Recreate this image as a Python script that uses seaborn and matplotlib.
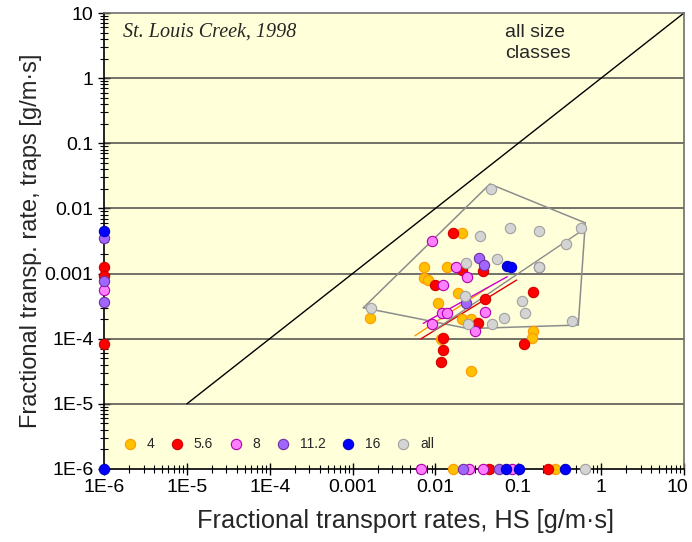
import seaborn as sns
import matplotlib.pyplot as plt
import matplotlib.ticker as mticker
import matplotlib.transforms as mtransforms
import pandas as pd
import numpy as np

# ----------- DATA -----------
# size class 4 mm
hs_4 = [0.0211, 0.00734, 0.0139, 0.00734, 0.0082, 0.0189, 0.01064, 0.00164, 0.0211,
        0.0266, 0.01155, 0.0266, 0.149, 0.145, 0.0161, 0.276]
tr_4 = [0.00415, 0.00125, 0.00125, 0.000845, 0.000796, 0.000508, 0.000357, 0.00021, 0.0002,
        0.000203, 9.8e-5, 3.2e-5, 0.000131, 0.000104, 1e-6, 1e-6]

# size class 5.6 mm
hs_56 = [0.01614, 0.0207, 0.0377, 0.00989, 0.0396, 0.0329, 0.01225, 0.01225, 0.01155,
         0.149, 0.118, 1e-6, 1e-6, 1e-6, 0.0443, 0.2306]
tr_56 = [0.00415, 0.00114, 0.00109, 0.000667, 0.000403, 0.000172, 0.000104, 6.7e-5, 4.4e-5,
         0.000527, 8.3e-5, 0.00125, 0.00093, 8.2e-5, 1e-6, 1e-6]

# size class 8 mm
hs_8 = [0.00902, 0.0179, 0.0238, 0.01225, 0.0121, 0.0139, 0.00902, 0.030, 0.0396,
        1e-6, 0.00665, 0.0253, 0.0373, 0.0832]
tr_8 = [0.00316, 0.00125, 0.000895, 0.000667, 0.000245, 0.00025, 0.000166, 0.000131, 0.00026,
        0.00056, 1e-6, 1e-6, 1e-6, 1e-6]

# size class 11.2 mm
hs_112 = [0.0336, 0.0389, 0.0232, 0.176, 1e-6, 1e-6, 1e-6, 0.0216, 0.0587]
tr_112 = [0.00175, 0.00135, 0.000349, 0.00125, 0.00347, 0.000778, 0.00037, 1e-6, 1e-6]

# size class 16 mm
hs_16 = [0.0724, 0.0817, 1e-6, 1e-6, 0.0703, 0.1016, 0.371]
tr_16 = [0.00131, 0.00125, 0.0045, 1e-6, 1e-6, 1e-6, 1e-6]

# all size classes
hs_all = [0.0469, 0.0787, 0.176, 0.575, 0.377, 0.0342, 0.0236, 0.0553, 0.176, 0.0229,
          0.1117, 0.1216, 0.0671, 0.0247, 0.0482, 0.4406, 0.00166, 0.641]
tr_all = [0.0196, 0.00506, 0.0045, 0.00495, 0.00281, 0.00377, 0.00147, 0.00166, 0.00125,
          0.000452, 0.000375, 0.000245, 0.000208, 0.000166, 0.000166, 0.000189, 0.000296, 1e-6]

# envelope around the "all" points
hull_x = [0.00135, 0.0455, 0.644, 0.53, 0.0249, 0.00135]
hull_y = [0.000299, 0.0237, 0.006, 0.000162, 0.000143, 0.000299]

# fitted trend lines (end points)
fit_4 = ([0.00566, 0.0434], [0.000111, 0.000615])
fit_56 = ([0.00664, 0.0957], [9.9e-5, 0.000796])
fit_8 = ([0.00713, 0.0736], [0.000172, 0.000895])
fit_all = ([0.00936, 0.644], [0.000131, 0.00495])

# 1:1 line
line_x = [1e-5, 10]
line_y = [1e-5, 10]

tick_vals = [1e-6, 1e-5, 1e-4, 1e-3, 1e-2, 1e-1, 1, 10]
tick_labels = ["1E-6", "1E-5", "1E-4", "0.001", "0.01", "0.1", "1", "10"]

classes = ["4", "5.6", "8", "11.2", "16", "all"]
fills = ["#FFC000", "#FF0000", "#FF80FF", "#A066FF", "#0000FF", "#D4D4D4"]
edges = ["#FF9900", "#D00000", "#B000B0", "#7030A0", "#0000C0", "#A0A0A0"]

frames = []
for name, xs, ys in zip(classes, [hs_4, hs_56, hs_8, hs_112, hs_16, hs_all],
                        [tr_4, tr_56, tr_8, tr_112, tr_16, tr_all]):
    frames.append(pd.DataFrame({"hs": xs, "traps": ys, "size": name}))
df = pd.concat(frames, ignore_index=True)

# ----------- PLOT -----------
sns.set_style("white")
plt.rcParams["font.family"] = ["Liberation Sans", "DejaVu Sans"]

fig = plt.figure(figsize=(6.92, 5.42), dpi=100)
ax = fig.add_axes([0.1503, 0.1347, 0.8381, 0.8413])
ax.set_facecolor("#FFFFDA")

ax.set_xscale("log")
ax.set_yscale("log")
ax.set_xlim(1e-6, 10)
ax.set_ylim(1e-6, 10)

# horizontal grid lines
for v in tick_vals[1:-1]:
    ax.axhline(v, color="#4a4a4a", lw=1.1, zorder=1)

sns.lineplot(x=line_x, y=line_y, color="black", lw=1, ax=ax, zorder=2)
ax.plot(hull_x, hull_y, color="#8c8c8c", lw=1.1, zorder=2)
ax.plot(*fit_4, color="#FF9900", lw=1, zorder=2)
ax.plot(*fit_56, color="#E00000", lw=1, zorder=2)
ax.plot(*fit_8, color="#CC00CC", lw=1, zorder=2)
ax.plot(*fit_all, color="#8c8c8c", lw=1, zorder=2)

for name, fc, ec in zip(classes, fills, edges):
    sns.scatterplot(data=df[df["size"] == name], x="hs", y="traps", color=fc,
                    edgecolor=ec, linewidth=0.8, s=55, ax=ax, label=name,
                    clip_on=False, zorder=4)

ax.set_xticks(tick_vals)
ax.set_xticklabels(tick_labels)
ax.set_yticks(tick_vals)
ax.set_yticklabels(tick_labels)
ax.xaxis.set_minor_locator(mticker.LogLocator(base=10, subs=np.arange(2, 10), numticks=20))
ax.yaxis.set_minor_locator(mticker.LogLocator(base=10, subs=np.arange(2, 10), numticks=20))
ax.xaxis.set_minor_formatter(mticker.NullFormatter())
ax.yaxis.set_minor_formatter(mticker.NullFormatter())
ax.tick_params(which="major", direction="inout", length=9, width=1, labelsize=14,
               colors="black", pad=3)
ax.tick_params(which="minor", direction="inout", length=6, width=0.8, colors="black")
ax.tick_params(axis="x", which="both", bottom=True)
ax.tick_params(axis="y", which="both", left=True)

# keep the last x tick label inside the picture
last = ax.get_xticklabels()[-1]
last.set_transform(last.get_transform() +
                   mtransforms.ScaledTranslation(-5 / 72, 0, fig.dpi_scale_trans))

for side in ["left", "bottom"]:
    ax.spines[side].set_color("black")
    ax.spines[side].set_linewidth(1.2)
for side in ["top", "right"]:
    ax.spines[side].set_color("#6e6e6e")
    ax.spines[side].set_linewidth(1.2)

ax.set_xlabel("Fractional transport rates, HS [g/m\u00b7s]", fontsize=18.3)
ax.set_ylabel("Fractional transp. rate, traps [g/m\u00b7s]", fontsize=17, labelpad=2)
ax.xaxis.set_label_coords(0.519, -0.088)

ax.text(0.033, 0.958, "St. Louis Creek, 1998", transform=ax.transAxes, fontsize=14.5,
        style="italic", family=["Liberation Serif", "DejaVu Serif"], va="center")
ax.text(0.691, 0.934, "all size\nclasses", transform=ax.transAxes, fontsize=14,
        va="center", ha="left", linespacing=1.3)

ax.legend(ncol=6, loc="center left", bbox_to_anchor=(0.032, 0.055), frameon=False,
          fontsize=10, handletextpad=0.7, columnspacing=1.15, handlelength=1.0,
          borderaxespad=0, borderpad=0)

fig.savefig("out.png", dpi=100)
